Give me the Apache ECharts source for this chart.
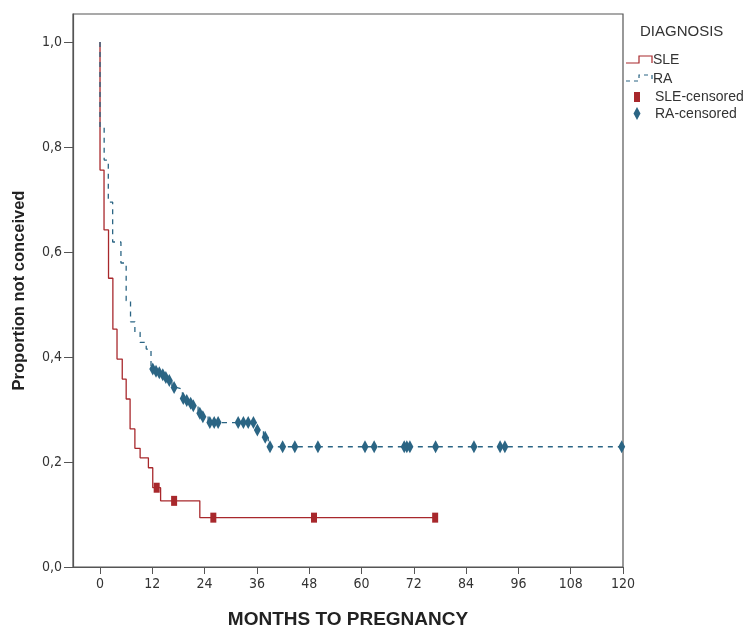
<!DOCTYPE html>
<html>
<head>
<meta charset="utf-8">
<script src="https://cdn.jsdelivr.net/npm/echarts@6/dist/echarts.min.js"></script>
<style>html,body{margin:0;padding:0;background:#fff}#c{width:751px;height:626px}</style>
</head>
<body>
<div id="c"></div>
<script>
// ---- data ----
// Kaplan-Meier steps: time (months) and survival value after the drop
var sleTimes  = [0, 0,     0.92,  1.95,  2.95,  3.9,   5.1,   6.0,   6.9,   8.0,   9.2,   11.1,  12.1,  13.9,  22.9,  77];
var sleValues = [1, 0.756, 0.642, 0.550, 0.453, 0.396, 0.358, 0.320, 0.263, 0.226, 0.208, 0.189, 0.151, 0.126, 0.094, 0.094];
var sleCensored = [13.0, 17.0, 26.0, 49.1, 76.9];

var raTimes  = [0, 0,     0.95,  1.9,   2.9,   4.8,   6.0,   7.0,   8.0,   9.2,   10.6,  11.7,  12.5,  13.2,  14.0,  14.8,  15.5,  16.5,  17.5,  18.9,  19.5,  20.4,  21.1,  22.5,  23.3,  24.8,  35.8,  37.5,  38.6,  120];
var raValues = [1, 0.838, 0.775, 0.695, 0.619, 0.579, 0.507, 0.467, 0.447, 0.428, 0.415, 0.377, 0.373, 0.370, 0.366, 0.361, 0.355, 0.342, 0.339, 0.321, 0.317, 0.312, 0.307, 0.293, 0.286, 0.275, 0.261, 0.247, 0.229, 0.229];
var raCensored = [12.1, 12.85, 13.6, 14.4, 15.1, 15.9, 17.0, 19.1, 19.9, 20.8, 21.4, 22.9, 23.6, 25.2, 26.2, 27.1, 31.7, 32.9, 34.0, 35.2, 36.1, 37.9, 39.0, 41.9, 44.7, 50.0, 60.8, 62.9, 69.8, 70.4, 71.1, 77.0, 85.8, 91.8, 92.9, 119.7];

var xTicks = [0, 12, 24, 36, 48, 60, 72, 84, 96, 108, 120];
var yTicks = [0, 0.2, 0.4, 0.6, 0.8, 1.0];

var groupNames = ['SLE', 'RA', 'SLE-censored', 'RA-censored'];
var legendTitle = 'DIAGNOSIS';
var xName = 'MONTHS TO PREGNANCY';
var yName = 'Proportion not conceived';

// ---- helpers ----
function pairs(t, v) { return t.map(function (x, i) { return [x, v[i]]; }); }
function valueAt(t, v, time) {
  var val = v[0];
  for (var i = 0; i < t.length; i++) { if (t[i] <= time) val = v[i]; }
  return val;
}
function censorPts(t, v, c) { return c.map(function (x) { return [x, valueAt(t, v, x)]; }); }

var RED = '#a8282c';
var BLUE = '#2b6584';
var AX = '#555555';
var FONT = '"Liberation Sans", Arial, sans-serif';
var NARROW = '"Liberation Sans Narrow", "Arial Narrow", "DejaVu Sans Condensed", "Liberation Sans", sans-serif';

var chart = echarts.init(document.getElementById('c'), null, { renderer: 'canvas' });
chart.setOption({
  animation: false,
  backgroundColor: '#ffffff',
  grid: { left: 73, right: 128, top: 14, bottom: 59, show: true, borderColor: AX, borderWidth: 1.2,
          backgroundColor: 'transparent', containLabel: false, outerBoundsMode: 'none' },
  xAxis: {
    type: 'value', min: -6.2, max: 120,
    name: xName, nameLocation: 'middle', nameGap: 43,
    nameTextStyle: { fontFamily: FONT, fontWeight: 'bold', fontSize: 19, color: '#222' },
    axisLine: { show: true, onZero: false, lineStyle: { color: AX, width: 1.2 } },
    axisTick: { show: true, length: 7, lineStyle: { color: AX }, customValues: xTicks },
    axisLabel: { show: true, customValues: xTicks, margin: 10, fontFamily: NARROW, fontSize: 14, color: '#333' },
    splitLine: { show: false }
  },
  yAxis: {
    type: 'value', min: 0, max: 1.0533,
    name: yName, nameLocation: 'middle', nameGap: 45, nameRotate: 90,
    nameTextStyle: { fontFamily: FONT, fontWeight: 'bold', fontSize: 16.5, color: '#222' },
    axisLine: { show: true, onZero: false, lineStyle: { color: AX, width: 1.2 } },
    axisTick: { show: true, length: 9, lineStyle: { color: AX }, customValues: yTicks },
    axisLabel: { show: true, customValues: yTicks, margin: 11, fontFamily: NARROW, fontSize: 14, color: '#333',
      formatter: function (v) { return v.toFixed(1).replace('.', ','); } },
    splitLine: { show: false }
  },
  series: [
    { name: groupNames[0], type: 'line', step: 'end', symbol: 'none', data: pairs(sleTimes, sleValues),
      lineStyle: { color: RED, width: 1.3 }, z: 3 },
    { name: groupNames[1], type: 'line', step: 'end', symbol: 'none', data: pairs(raTimes, raValues),
      lineStyle: { color: BLUE, width: 1.3, type: [5, 5] }, z: 4 },
    { name: groupNames[2], type: 'scatter', symbol: 'rect', symbolSize: [6, 10], data: censorPts(sleTimes, sleValues, sleCensored),
      itemStyle: { color: RED, opacity: 1 }, z: 5 },
    { name: groupNames[3], type: 'scatter', symbol: 'diamond', symbolSize: [7, 13], data: censorPts(raTimes, raValues, raCensored),
      itemStyle: { color: BLUE, opacity: 1 }, z: 6 }
  ],
  graphic: [
    { type: 'text', left: 640, top: 24, style: { text: legendTitle, fontFamily: FONT, fontSize: 15, fill: '#333' } },
    { type: 'polyline', shape: { points: [[626, 63], [639, 63], [639, 56], [652, 56], [652, 63]] }, style: { stroke: RED, lineWidth: 1.2, fill: null } },
    { type: 'text', left: 653, top: 53, style: { text: groupNames[0], fontFamily: FONT, fontSize: 14, fill: '#333' } },
    { type: 'polyline', shape: { points: [[626, 81], [639, 81], [639, 75], [652, 75], [652, 81]] }, style: { stroke: BLUE, lineWidth: 1.2, lineDash: [4, 4], fill: null } },
    { type: 'text', left: 653, top: 72, style: { text: groupNames[1], fontFamily: FONT, fontSize: 14, fill: '#333' } },
    { type: 'rect', shape: { x: 634, y: 92, width: 6, height: 10 }, style: { fill: RED } },
    { type: 'text', left: 655, top: 90, style: { text: groupNames[2], fontFamily: FONT, fontSize: 14, fill: '#333' } },
    { type: 'polygon', shape: { points: [[637, 107], [640.5, 113.5], [637, 120], [633.5, 113.5]] }, style: { fill: BLUE } },
    { type: 'text', left: 655, top: 107, style: { text: groupNames[3], fontFamily: FONT, fontSize: 14, fill: '#333' } }
  ]
});
</script>
</body>
</html>
